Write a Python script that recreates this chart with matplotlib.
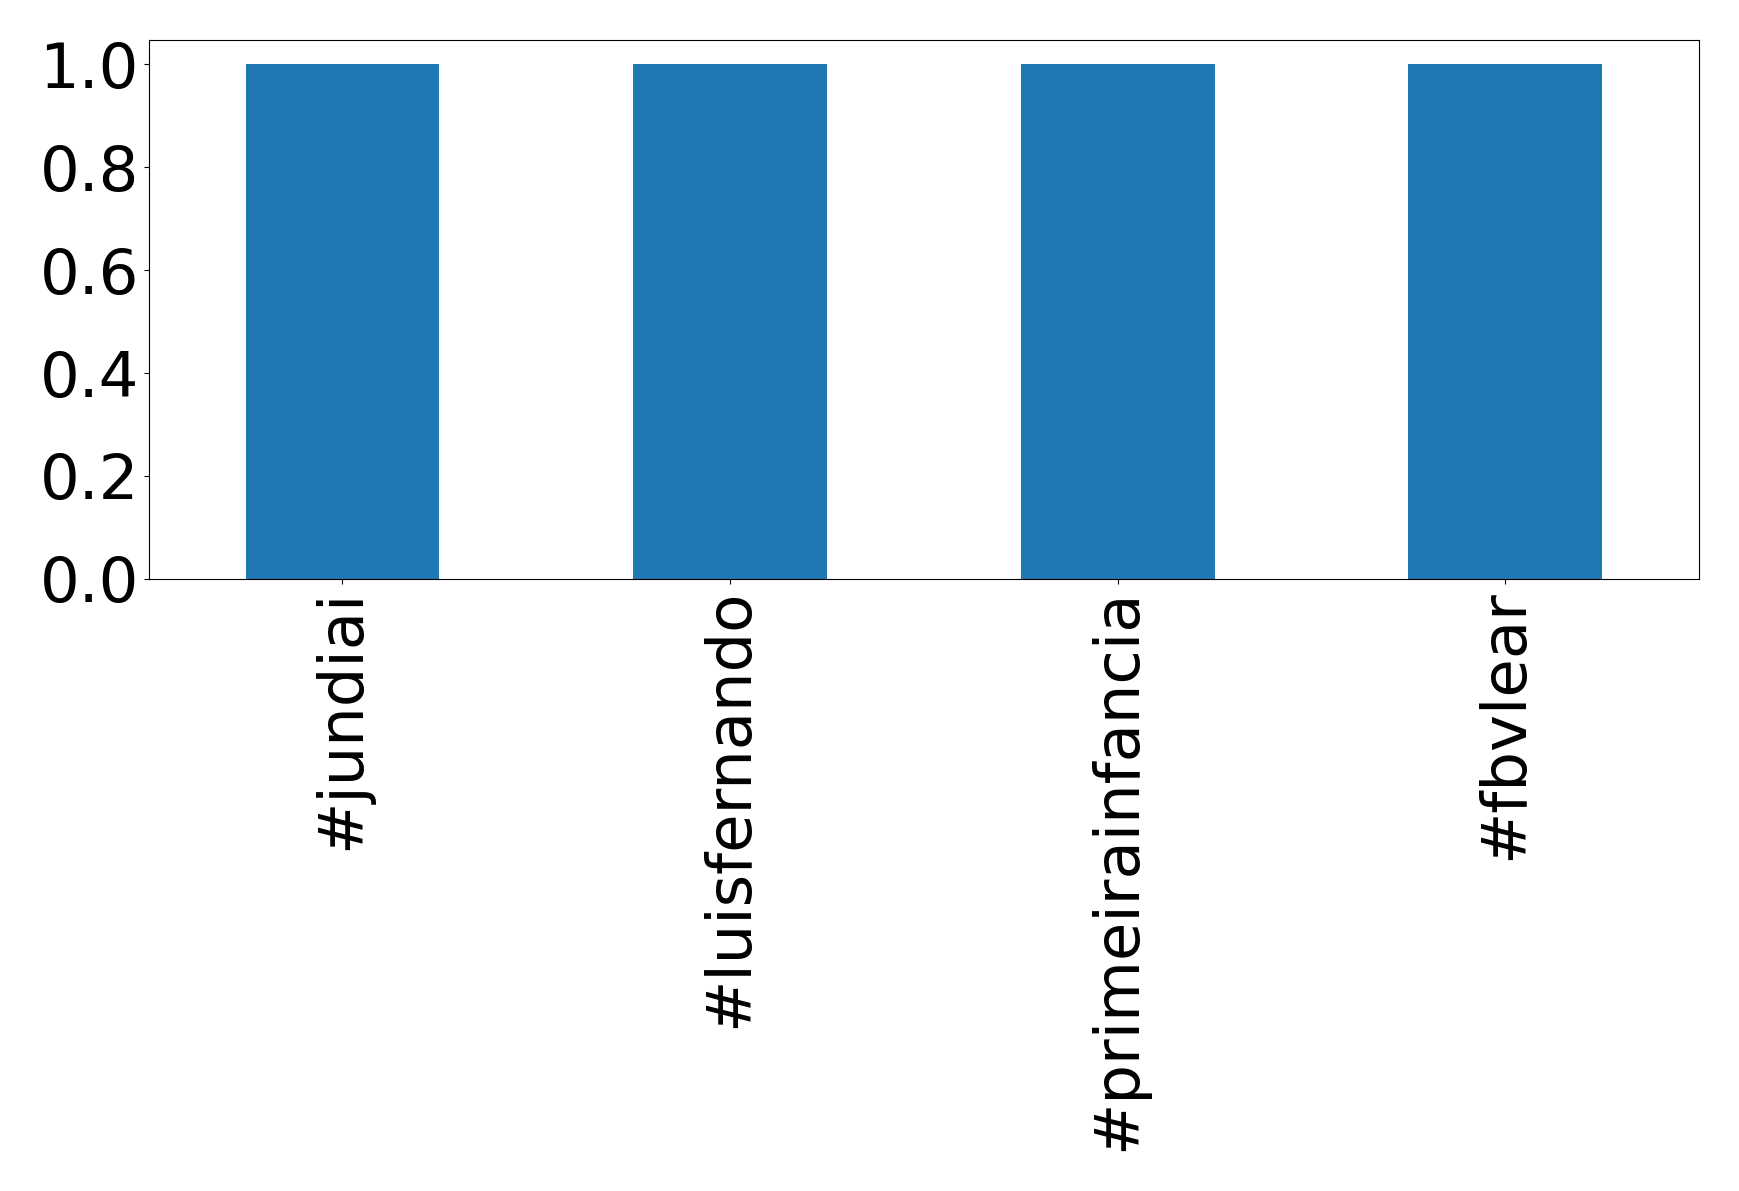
import matplotlib
matplotlib.use("Agg")
import matplotlib.pyplot as plt

categories = ["#jundiai", "#luisfernando", "#primeirainfancia", "#fbvlear"]
values = [1, 1, 1, 1]

fig = plt.figure(figsize=(17.39, 11.91), dpi=100)
ax = fig.add_axes([0.0855, 0.5139, 0.8915, 0.4525])
x = list(range(len(categories)))
ax.bar(x, values, width=0.5, color="#1f77b4")
ax.set_xlim(-0.5, len(categories) - 0.5)
ax.set_ylim(0, 1.047)
ax.set_xticks(x)
ax.set_xticklabels(categories, rotation=90, fontsize=45)
ax.set_yticks([0.0, 0.2, 0.4, 0.6, 0.8, 1.0])
ax.set_yticklabels(["0.0", "0.2", "0.4", "0.6", "0.8", "1.0"], fontsize=45)
fig.savefig("out.png", dpi=100)
